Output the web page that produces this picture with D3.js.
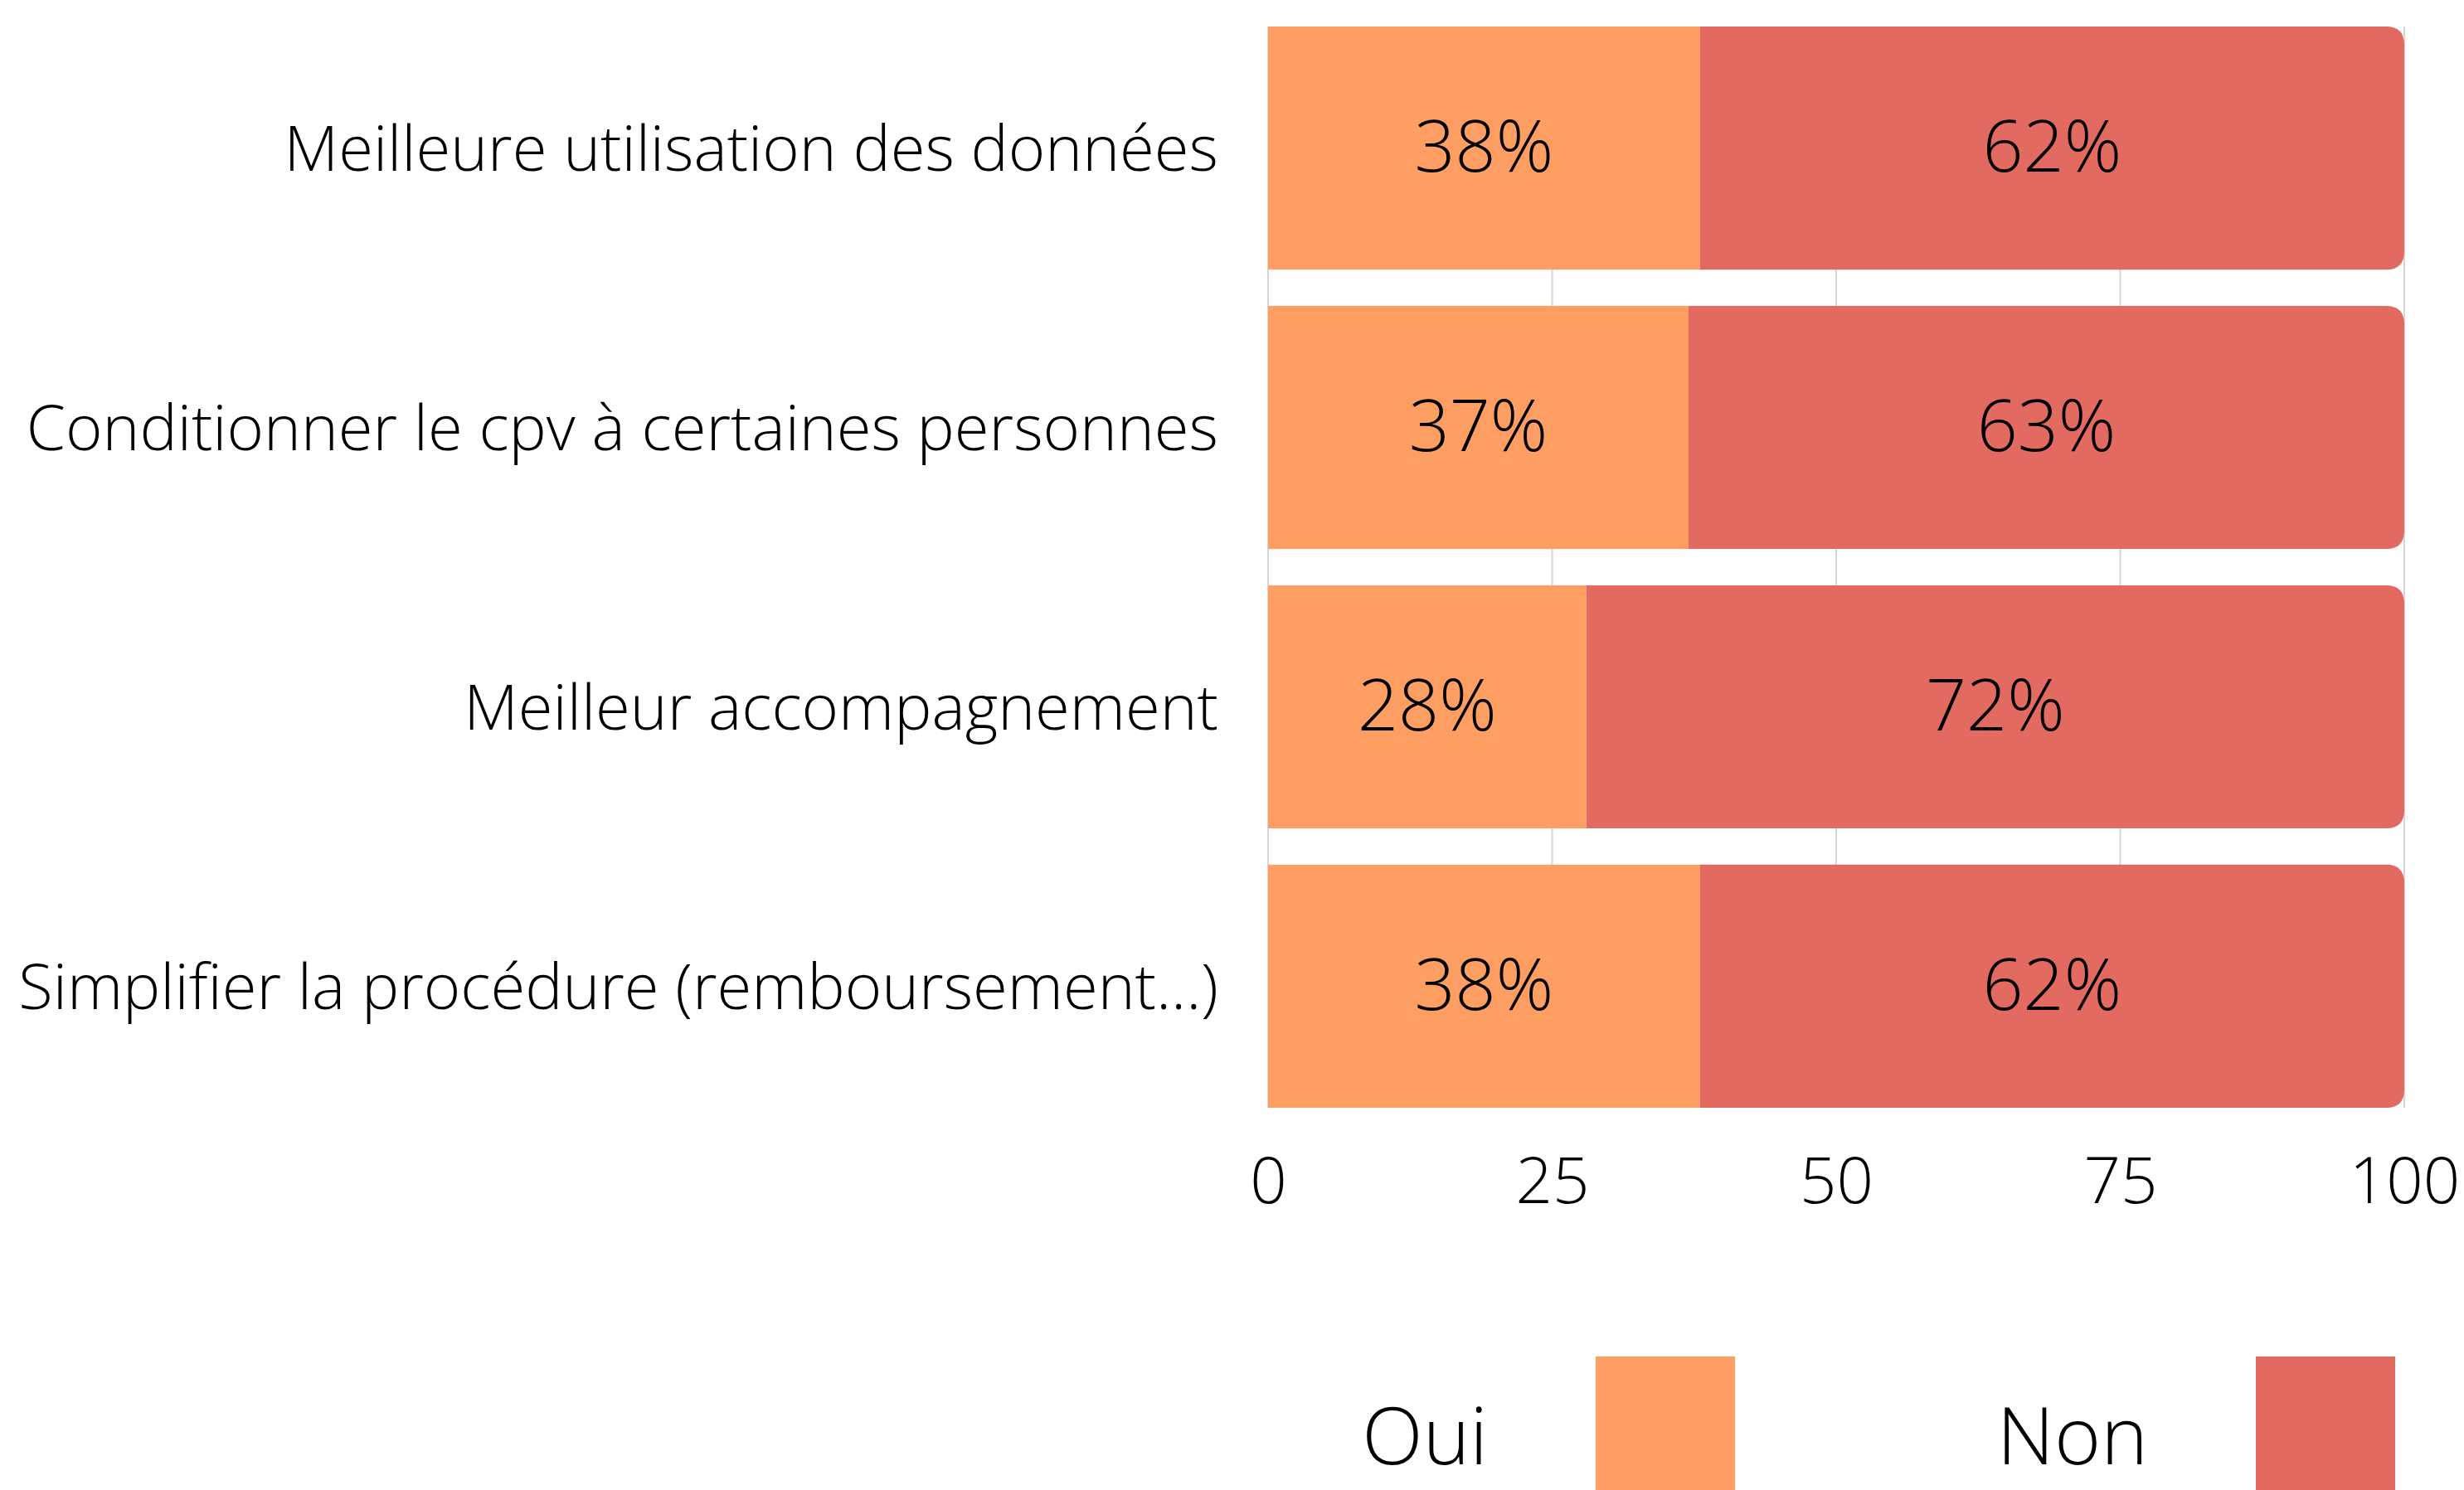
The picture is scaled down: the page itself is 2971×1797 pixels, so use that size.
<!DOCTYPE html>
<html>
<head>
<meta charset="utf-8">
<script src="https://cdn.jsdelivr.net/npm/d3@7"></script>
<style>
  body { margin: 0; background: #fff; }
  svg text { font-family: "Open Sans", "Noto Sans", sans-serif; font-weight: 300; fill: #000; }
</style>
</head>
<body>
<div id="chart"></div>
<script>
// ── Data ──────────────────────────────────────────────
const categories = [
    "Meilleure utilisation des données",
    "Conditionner le cpv à certaines personnes",
    "Meilleur accompagnement",
    "Simplifier la procédure (remboursement...)"
];
const ouiValues = [38, 37, 28, 38];
const nonValues = [62, 63, 72, 62];
const xTicks = [0, 25, 50, 75, 100];
const seriesNames = ["Oui", "Non"];
const seriesColors = ["#fe9e62", "#e36a61"];

const width = 2971, height = 1797;
const margin = { top: 32, right: 72, bottom: 461, left: 1529 };
const innerW = width - margin.left - margin.right;
const innerH = height - margin.top - margin.bottom;

const svg = d3.select("#chart").append("svg")
    .attr("width", width).attr("height", height);
const g = svg.append("g").attr("transform", `translate(${margin.left},${margin.top})`);

const x = d3.scaleLinear().domain([0, 100]).range([0, innerW]);
const y = d3.scaleBand().domain(categories).range([0, innerH]).paddingInner(0.13).paddingOuter(0);
const color = d3.scaleOrdinal().domain(seriesNames).range(seriesColors);

// Gridlines (behind the bars)
g.append("g").selectAll("line")
    .data(xTicks)
    .join("line")
    .attr("x1", d => x(d)).attr("x2", d => x(d))
    .attr("y1", 0).attr("y2", innerH)
    .attr("stroke", "#d6d6d6").attr("stroke-width", 2);

// bar with rounded right corners only
function rightRounded(x0, y0, w, h, r) {
    r = Math.min(r, w, h / 2);
    return `M${x0},${y0}H${x0 + w - r}Q${x0 + w},${y0} ${x0 + w},${y0 + r}` +
           `V${y0 + h - r}Q${x0 + w},${y0 + h} ${x0 + w - r},${y0 + h}H${x0}Z`;
}

const rows = categories.map((c, i) => ({ cat: c, oui: ouiValues[i], non: nonValues[i] }));

const row = g.selectAll("g.row").data(rows).join("g").attr("class", "row");

row.append("rect")
    .attr("x", x(0))
    .attr("y", d => y(d.cat))
    .attr("width", d => x(d.oui) - x(0))
    .attr("height", y.bandwidth())
    .attr("fill", color("Oui"));

row.append("path")
    .attr("d", d => rightRounded(x(d.oui), y(d.cat), x(d.oui + d.non) - x(d.oui), y.bandwidth(), 22))
    .attr("fill", color("Non"));

// Percent labels
row.append("text")
    .attr("x", d => (x(0) + x(d.oui)) / 2)
    .attr("y", d => y(d.cat) + y.bandwidth() / 2)
    .attr("dy", "0.33em").attr("text-anchor", "middle")
    .style("font-size", "86px")
    .text(d => d.oui + "%");
row.append("text")
    .attr("x", d => (x(d.oui) + x(d.oui + d.non)) / 2)
    .attr("y", d => y(d.cat) + y.bandwidth() / 2)
    .attr("dy", "0.33em").attr("text-anchor", "middle")
    .style("font-size", "86px")
    .text(d => d.non + "%");

// Category labels
const yAxis = g.append("g")
    .call(d3.axisLeft(y).tickSize(0).tickPadding(60));
yAxis.select(".domain").remove();
yAxis.selectAll("text")
    .attr("dy", "0.36em")
    .style("font-size", "76px").style("font-family", null);

// X axis ticks
const xAxis = g.append("g").attr("transform", `translate(0,${innerH})`)
    .call(d3.axisBottom(x).tickValues(xTicks).tickSize(0).tickPadding(0));
xAxis.select(".domain").remove();
xAxis.selectAll("text")
    .attr("y", 115).attr("dy", 0)
    .style("font-size", "78px").style("font-family", null);

// Legend
const legend = svg.append("g").attr("transform", "translate(1924,1636)");
seriesNames.forEach((name, i) => {
    const item = legend.append("g").attr("transform", `translate(${i * 796},0)`);
    item.append("rect").attr("width", 168).attr("height", 168).attr("fill", color(name));
    item.append("text").attr("x", -130).attr("y", 130)
        .attr("text-anchor", "end")
        .style("font-size", "96px")
        .text(name);
});
</script>
</body>
</html>
